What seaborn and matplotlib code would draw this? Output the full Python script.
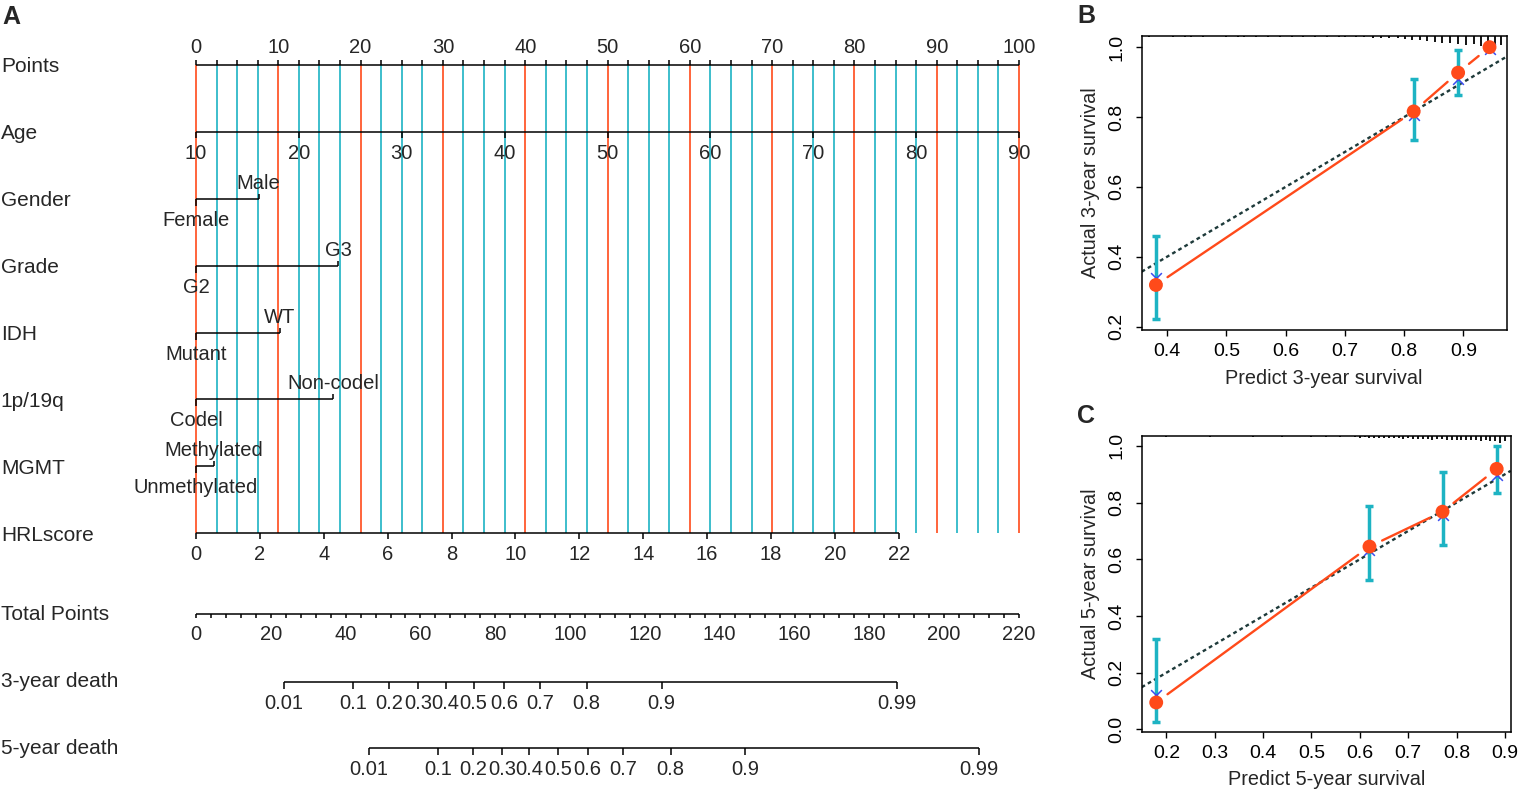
import numpy as np
import matplotlib
matplotlib.use("Agg")
import matplotlib.pyplot as plt
import seaborn as sns

# ---- nomogram (panel A) ----
row_names = ['Points', 'Age', 'Gender', 'Grade', 'IDH', '1p/19q', 'MGMT', 'HRLscore']
point_labels = [0, 10, 20, 30, 40, 50, 60, 70, 80, 90, 100]
age_ticks = [10, 20, 30, 40, 50, 60, 70, 80, 90]
cat_rows = ['Gender', 'Grade', 'IDH', '1p/19q', 'MGMT']
cat_low = ['Female', 'G2', 'Mutant', 'Codel', 'Unmethylated']
cat_high = ['Male', 'G3', 'WT', 'Non-codel', 'Methylated']
cat_high_pts = [7.6, 17.3, 10.2, 16.7, 2.2]
hrl_ticks = [0, 2, 4, 6, 8, 10, 12, 14, 16, 18, 20, 22]
hrl_max_pts = 85.4
total_labels = [0, 20, 40, 60, 80, 100, 120, 140, 160, 180, 200, 220]
death_labels = ['0.01', '0.1', '0.2', '0.3', '0.4', '0.5', '0.6', '0.7', '0.8', '0.9', '0.99']
death3_tp = [23.5, 42.0, 51.6, 59.4, 66.7, 74.2, 82.3, 91.9, 104.4, 124.5, 187.3]
death5_tp = [46.2, 64.8, 74.1, 81.9, 89.0, 96.7, 104.7, 114.2, 126.9, 146.8, 209.4]

# ---- calibration (panels B, C) ----
b_pred = [0.381, 0.816, 0.891, 0.944]
b_obs = [0.319, 0.816, 0.927, 1.0]
b_lo = [0.221, 0.735, 0.864, 1.0]
b_hi = [0.460, 0.910, 0.993, 1.0]
b_corr = [0.338, 0.805, 0.910, 0.995]
b_spike_x = [0.37, 0.39, 0.41, 0.43, 0.44, 0.46, 0.48, 0.50, 0.52, 0.53, 0.55, 0.57,
             0.59, 0.61, 0.63, 0.65, 0.67, 0.69, 0.70, 0.719, 0.733, 0.747, 0.761,
             0.775, 0.789, 0.802, 0.814, 0.826, 0.839, 0.852, 0.864, 0.878, 0.891,
             0.904, 0.917, 0.929, 0.942, 0.954, 0.964]
b_spike_h = [0.05, 0.04, 0.05, 0.06, 0.1, 0.05, 0.04, 0.05, 0.06, 0.1, 0.05, 0.05,
             0.06, 0.1, 0.05, 0.06, 0.08, 0.1, 0.12, 0.13, 0.13, 0.17, 0.17,
             0.2, 0.17, 0.33, 0.4, 0.4, 0.47, 0.53, 0.67, 0.67, 0.73,
             0.83, 0.73, 0.93, 1.0, 1.0, 0.83]

c_pred = [0.179, 0.620, 0.771, 0.883]
c_obs = [0.095, 0.645, 0.768, 0.919]
c_lo = [0.027, 0.527, 0.650, 0.835]
c_hi = [0.318, 0.788, 0.909, 1.0]
c_corr = [0.121, 0.632, 0.756, 0.898]
c_spike_x = [0.17, 0.20, 0.23, 0.26, 0.29, 0.32, 0.35, 0.38, 0.41, 0.44, 0.47, 0.50,
             0.53, 0.56, 0.59, 0.60, 0.61, 0.62, 0.63, 0.64, 0.65, 0.66, 0.67, 0.68,
             0.69, 0.70, 0.71, 0.72, 0.73, 0.74, 0.75, 0.76, 0.77, 0.78, 0.79, 0.80,
             0.81, 0.82, 0.83, 0.84, 0.85, 0.86, 0.87, 0.88, 0.89, 0.90]
c_spike_h = [0.1, 0.12, 0.08, 0.1, 0.12, 0.1, 0.08, 0.12, 0.1, 0.12, 0.1, 0.12,
             0.15, 0.12, 0.2, 0.25, 0.2, 0.3, 0.25, 0.3, 0.25, 0.35, 0.3, 0.35,
             0.4, 0.35, 0.4, 0.45, 0.4, 0.45, 0.5, 0.45, 0.4, 0.5, 0.55, 0.5,
             0.55, 0.6, 0.55, 0.6, 0.65, 0.6, 0.7, 0.65, 1.0, 0.7]

RED = '#FF4A1A'
CYAN = '#1DB3C3'
DOT = '#1E3A3A'
BLUE = '#3A4CF0'

sns.set_theme(style='white')
plt.rcParams['font.family'] = ['Liberation Sans', 'DejaVu Sans']

W, H = 1519, 799
fig = plt.figure(figsize=(W / 100, H / 100), dpi=100)

# panel A axes: 8.23 px per point, points 0 at x=196 px
ppx = 8.23
ax = fig.add_axes([0, 0, 1060 / W, 1])
ax.axis('off')
ax.set_xlim(-196 / ppx, (1060 - 196) / ppx)
ry = 66.9  # px per row
ax.set_ylim((H - 65) / ry, -65 / ry)
px = 1 / ry
row_y = {n: i for i, n in enumerate(row_names)}
total_y, d3_y, d5_y = 8.21, 9.22, 10.21
lab_fs = 15
tick_fs = 14.5
lw_ax = 1.1
xlab = -196 / ppx

for name in row_names:
    ax.text(xlab + 0.1, row_y[name] + 2 * px, name, fontsize=lab_fs, va='center', ha='left')
for name, yy in [('Total Points', total_y), ('3-year death', d3_y), ('5-year death', d5_y)]:
    ax.text(xlab + 0.1, yy, name, fontsize=lab_fs, va='center', ha='left')

# guide lines every 2.5 points
for p in np.arange(0, 100.01, 2.5):
    col = RED if abs(p % 10) < 1e-6 else CYAN
    ax.vlines(p, row_y['Points'], row_y['HRLscore'], color=col, lw=1.2, zorder=0)

# Points axis
ax.hlines(0, 0, 100, color='black', lw=lw_ax)
ax.vlines(np.arange(0, 100.01, 2.5), -5 * px, 0, color='black', lw=lw_ax)
for v in point_labels:
    ax.text(v, -12 * px, str(v), fontsize=tick_fs, ha='center', va='baseline')

# Age axis
ya = row_y['Age']
age_pts = [(a - age_ticks[0]) * 100 / (age_ticks[-1] - age_ticks[0]) for a in age_ticks]
ax.hlines(ya, 0, 100, color='black', lw=lw_ax)
ax.vlines(age_pts, ya, ya + 6 * px, color='black', lw=lw_ax)
for a, p in zip(age_ticks, age_pts):
    ax.text(p, ya + 12 * px, str(a), fontsize=tick_fs, ha='center', va='top')

# categorical rows
for name, lo, hi, hp in zip(cat_rows, cat_low, cat_high, cat_high_pts):
    yy = row_y[name]
    ax.hlines(yy, 0, hp, color='black', lw=lw_ax)
    ax.vlines(0, yy, yy + 7 * px, color='black', lw=lw_ax)
    ax.vlines(hp, yy - 5 * px, yy, color='black', lw=lw_ax)
    ax.text(hp, yy - 10 * px, hi, fontsize=tick_fs, ha='center', va='baseline')
    ax.text(0, yy + 12 * px, lo, fontsize=tick_fs, ha='center', va='top')

# HRLscore axis
yh = row_y['HRLscore']
hrl_pts = [v * hrl_max_pts / hrl_ticks[-1] for v in hrl_ticks]
ax.hlines(yh, 0, hrl_pts[-1], color='black', lw=lw_ax)
ax.vlines(hrl_pts, yh, yh + 6 * px, color='black', lw=lw_ax)
for v, p in zip(hrl_ticks, hrl_pts):
    ax.text(p, yh + 12 * px, str(v), fontsize=tick_fs, ha='center', va='top')

# Total points axis (0-220 mapped onto 0-100)
tscale = 100 / total_labels[-1]
ax.hlines(total_y, 0, 100, color='black', lw=lw_ax)
ax.vlines(np.arange(0, 220.1, 4) * tscale, total_y, total_y + 4 * px, color='black', lw=lw_ax)
for v in total_labels:
    ax.text(v * tscale, total_y + 11 * px, str(v), fontsize=tick_fs, ha='center', va='top')

# death probability axes
for yy, tp in [(d3_y, death3_tp), (d5_y, death5_tp)]:
    xs = [t * tscale for t in tp]
    ax.hlines(yy, xs[0], xs[-1], color='black', lw=lw_ax)
    ax.vlines(xs, yy, yy + 7 * px, color='black', lw=lw_ax)
    for lab, x in zip(death_labels, xs):
        ax.text(x, yy + 12 * px, lab, fontsize=tick_fs, ha='center', va='top')


# ---- calibration panels ----
def gapped_line(ax, x, y, gap, **kw):
    pts = ax.transData.transform(np.column_stack([x, y]))
    inv = ax.transData.inverted()
    for a, b in zip(pts[:-1], pts[1:]):
        d = b - a
        L = np.hypot(*d)
        if L <= 2 * gap:
            continue
        seg = inv.transform(np.array([a + d / L * gap, b - d / L * gap]))
        ax.plot(seg[:, 0], seg[:, 1], **kw)


def calib(rect, pred, obs, lo, hi, corr, sx, sh, smax, xlim, ylim, xticks, yticks, xl, yl):
    a = fig.add_axes(rect)
    a.set_xlim(*xlim)
    a.set_ylim(*ylim)
    a.axline((0, 0), (1, 1), color=DOT, lw=1.7, ls=(0, (1.6, 1.4)), zorder=2)
    obs = np.array(obs)
    a.errorbar(pred, obs, yerr=[obs - np.array(lo), np.array(hi) - obs], fmt='none',
               ecolor=CYAN, elinewidth=2.5, capsize=3.2, capthick=2.5, zorder=3)
    gapped_line(a, pred, obs, 14, color=RED, lw=1.7, zorder=4)
    a.scatter(pred, corr, marker='x', color=BLUE, s=60, lw=1.1, zorder=5)
    sns.scatterplot(x=pred, y=obs, color=RED, s=100, edgecolor='none', ax=a, zorder=6)
    # distribution spikes hanging from the top edge
    trans = a.get_xaxis_transform()
    a.vlines(sx, [1 - smax * h for h in sh], 1, color='black', lw=1.3, transform=trans)
    a.set_xticks(xticks)
    a.set_yticks(yticks)
    a.set_xticklabels([f'{t:.1f}' for t in xticks])
    a.set_yticklabels([f'{t:.1f}' for t in yticks])
    a.tick_params(axis='both', direction='out', length=4.5, width=1.0, labelsize=14,
                  colors='black', bottom=True, left=True)
    a.tick_params(axis='x', pad=5)
    a.tick_params(axis='y', labelrotation=90, pad=7)
    for t in a.get_yticklabels():
        t.set_va('center')
    for s in a.spines.values():
        s.set_visible(True)
        s.set_color('black')
        s.set_linewidth(1.1)
    a.set_xlabel(xl, fontsize=14.3, labelpad=6)
    a.set_ylabel(yl, fontsize=14.3, labelpad=6)
    return a


calib([1141.7 / W, 1 - 330 / H, 365 / W, 294 / H], b_pred, b_obs, b_lo, b_hi, b_corr,
      b_spike_x, b_spike_h, 0.036, (0.357, 0.973), (0.19, 1.032),
      [0.4, 0.5, 0.6, 0.7, 0.8, 0.9], [0.2, 0.4, 0.6, 0.8, 1.0],
      'Predict 3-year survival', 'Actual 3-year survival')
calib([1141.7 / W, 1 - 731.7 / H, 369 / W, 296 / H], c_pred, c_obs, c_lo, c_hi, c_corr,
      c_spike_x, c_spike_h, 0.026, (0.149, 0.912), (-0.008, 1.036),
      [0.2, 0.3, 0.4, 0.5, 0.6, 0.7, 0.8, 0.9], [0.0, 0.2, 0.4, 0.6, 0.8, 1.0],
      'Predict 5-year survival', 'Actual 5-year survival')

for lab, x, y in [('A', 2, 5), ('B', 1077, 4), ('C', 1077, 404)]:
    fig.text(x / W, 1 - y / H, lab, fontsize=18, fontweight='bold', va='top', ha='left')

fig.savefig('out.png', dpi=100, facecolor='white')
